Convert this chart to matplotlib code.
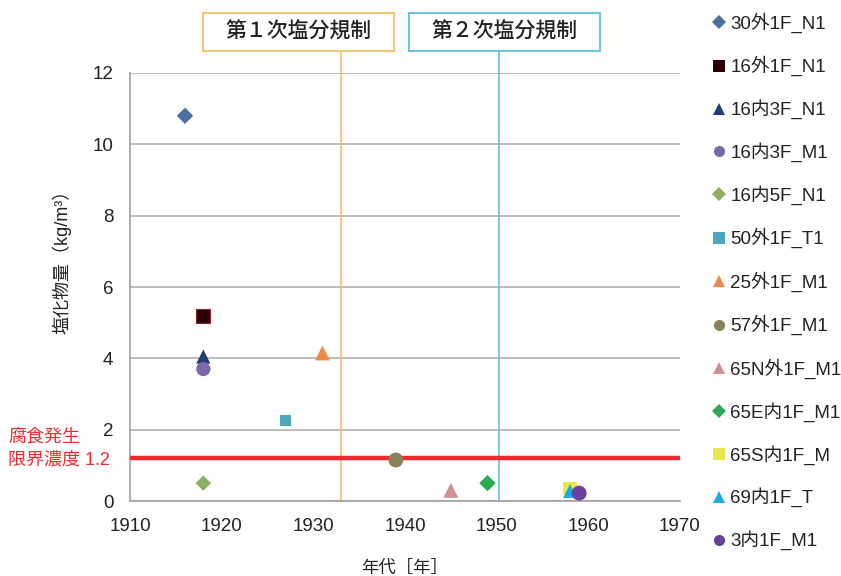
import matplotlib
matplotlib.use("Agg")
import matplotlib.pyplot as plt
from matplotlib.lines import Line2D
from matplotlib.patches import Rectangle

plt.rcParams['font.family'] = ['Liberation Sans', 'Noto Sans CJK JP', 'DejaVu Sans']

# 試料ごとの年代と塩化物量
labels = ['30外1F_N1', '16外1F_N1', '16内3F_N1', '16内3F_M1', '16内5F_N1',
          '50外1F_T1', '25外1F_M1', '57外1F_M1', '65N外1F_M1', '65E内1F_M1',
          '65S内1F_M', '69内1F_T', '3内1F_M1']
years = [1916, 1918, 1918, 1918, 1918, 1927, 1931, 1939, 1945, 1949, 1958, 1958, 1959]
chloride = [10.8, 5.2, 4.05, 3.7, 0.5, 2.25, 4.15, 1.15, 0.3, 0.5, 0.35, 0.28, 0.22]
markers = ['D', 's', '^', 'o', 'D', 's', '^', 'o', '^', 'D', 's', '^', 'o']
colors = ['#4A6FA0', '#2A0004', '#1F3F6E', '#7B68A8', '#8FB060', '#4AA7BE',
          '#F08A4B', '#8C8158', '#D09093', '#2DAA55', '#E8E84A', '#1AABE0', '#6A3FA0']
edges = ['none', '#8A2030', 'none', 'none', 'none', 'none', 'none', 'none',
         'none', 'none', 'none', 'none', 'none']
sizes = [70, 110, 105, 105, 62, 65, 115, 115, 115, 70, 100, 100, 115]

limit = 1.2
limit_text = ['腐食発生', '限界濃度 1.2']
regulations = ['第１次塩分規制', '第２次塩分規制']
reg_years = [1933, 1950.3]
reg_colors = ['#F5C060', '#5BC0E8']

fig = plt.figure(figsize=(8.41, 5.76), dpi=100)
ax = fig.add_axes([130 / 841, 75 / 576, 550 / 841, 428 / 576])

ax.set_xlim(1910, 1970)
ax.set_ylim(0, 12)
ax.set_xticks(range(1910, 1971, 10))
ax.set_yticks(range(0, 13, 2))
ax.grid(axis='y', color='#BDBDBD', lw=1.4)
ax.set_axisbelow(True)
for side in ['top', 'right']:
    ax.spines[side].set_visible(False)
for side in ['left', 'bottom']:
    ax.spines[side].set_color('#A0A0A0')
    ax.spines[side].set_linewidth(1.2)
ax.tick_params(length=0, labelsize=13.5, colors='#222222', pad=12)
ax.tick_params(axis='x', pad=12)

# 規制年の縦線（枠の下端まで伸ばす）
for yr, c in zip(reg_years, reg_colors):
    ax.plot([yr, yr], [0, 12.62], color=c, lw=1.2, clip_on=False, zorder=2)

# 腐食発生限界濃度
ax.axhline(limit, color='#EE2A2E', lw=3.2, zorder=3)
for i, line in enumerate(limit_text):
    fig.text(8 / 841, 1 - (437 + 23 * i) / 576, line, color='#EE2A2E',
             fontsize=13, ha='left', va='center')

for x, y, m, c, e, s in zip(years, chloride, markers, colors, edges, sizes):
    ax.scatter(x, y, marker=m, color=c, edgecolors=e, s=s, zorder=5,
               linewidths=0 if e == 'none' else 0.8)

ax.set_ylabel('塩化物量（kg/m³）', fontsize=13, color='#222222')
ax.yaxis.set_label_coords(-0.107, 0.57)
ax.set_xlabel('年代［年］', fontsize=12.5, color='#222222', labelpad=18)

# 規制の枠
box_x = [203, 409]
for txt, bx, c in zip(regulations, box_x, reg_colors):
    fig.patches.append(Rectangle((bx / 841, (576 - 51) / 576), 191 / 841, 38 / 576,
                                 transform=fig.transFigure, fill=False,
                                 edgecolor=c, lw=1.3))
    fig.text((bx + 95.5) / 841, (576 - 32) / 576, txt, fontsize=15, color='#222222',
             ha='center', va='center', fontweight='medium',
             family=['Noto Sans CJK JP', 'DejaVu Sans'])

handles = [Line2D([], [], ls='none', marker=m, color=c, markersize=8 if m != 'D' else 7.5,
                  markeredgewidth=0)
           for m, c in zip(markers, colors)]
fig.legend(handles, labels, loc='upper left', bbox_to_anchor=(706 / 841, 1 - 5 / 576),
           frameon=False, fontsize=13.5, handlelength=0.6, handletextpad=0.3,
           labelspacing=1.23, borderaxespad=0, labelcolor='#222222')

fig.savefig('out.png', dpi=100)
